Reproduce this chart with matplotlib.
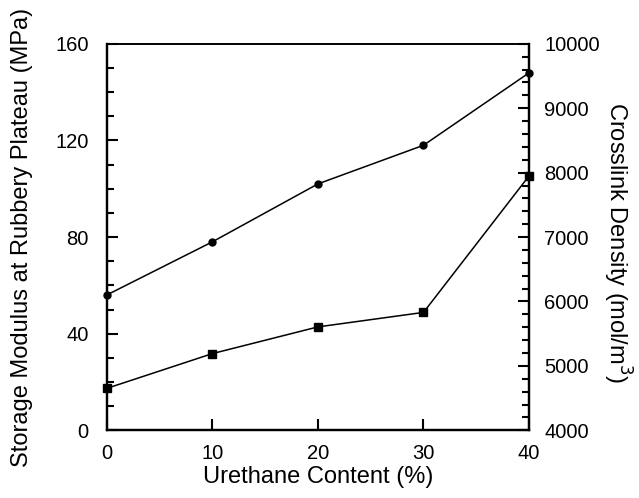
import numpy as np
import matplotlib
matplotlib.use('Agg')
import matplotlib.pyplot as plt
from matplotlib.ticker import MultipleLocator

plt.rcParams['font.family'] = ['Liberation Sans', 'DejaVu Sans']

# datos
urethane = [0, 10, 20, 30, 40]
storage_modulus = [56, 78, 102, 118, 148]          # MPa (eje izquierdo)
crosslink_density = [4650, 5190, 5605, 5830, 7950]  # mol/m^3 (eje derecho)

fig = plt.figure(figsize=(6.39, 4.98), dpi=100)
ax = fig.add_axes([0.167, 0.136, 0.661, 0.776])
ax2 = ax.twinx()

ax.plot(urethane, storage_modulus, color='black', lw=1.1, marker='o', ms=5, clip_on=False)
ax2.plot(urethane, crosslink_density, color='black', lw=1.1, marker='s', ms=6, clip_on=False)

ax.set_xlim(0, 40)
ax.set_ylim(0, 160)
ax2.set_ylim(4000, 10000)

ax.xaxis.set_major_locator(MultipleLocator(10))
ax.yaxis.set_major_locator(MultipleLocator(40))
ax.yaxis.set_minor_locator(MultipleLocator(10))
ax2.yaxis.set_major_locator(MultipleLocator(1000))
ax2.yaxis.set_minor_locator(MultipleLocator(200))

fs_tick = 14.5
ax.tick_params(axis='x', direction='in', length=8, width=1.5, labelsize=fs_tick, pad=10, top=False)
ax.tick_params(axis='y', which='major', direction='in', length=8, width=1.5, labelsize=fs_tick, pad=13)
ax.tick_params(axis='y', which='minor', direction='in', length=5, width=1.5)
ax2.tick_params(axis='y', which='major', direction='in', length=8, width=1.5, labelsize=fs_tick, pad=11)
ax2.tick_params(axis='y', which='minor', direction='in', length=5, width=1.5)

for a in (ax, ax2):
    for s in a.spines.values():
        s.set_linewidth(1.6)
    a.spines['top'].set_linewidth(1.2)

# etiquetas de ejes
ax.set_xlabel('Urethane Content (%)', fontsize=17)
ax.xaxis.set_label_coords(0.5, -0.093)
fig.text(22/639, 1 - 237/498, 'Storage Modulus at Rubbery Plateau (MPa)', fontsize=17,
         rotation=90, ha='center', va='center')
fig.text(617/639, 1 - 243/498, 'Crosslink Density (mol/m$^3$)', fontsize=17,
         rotation=270, ha='center', va='center')

fig.savefig('out.png', dpi=100)
